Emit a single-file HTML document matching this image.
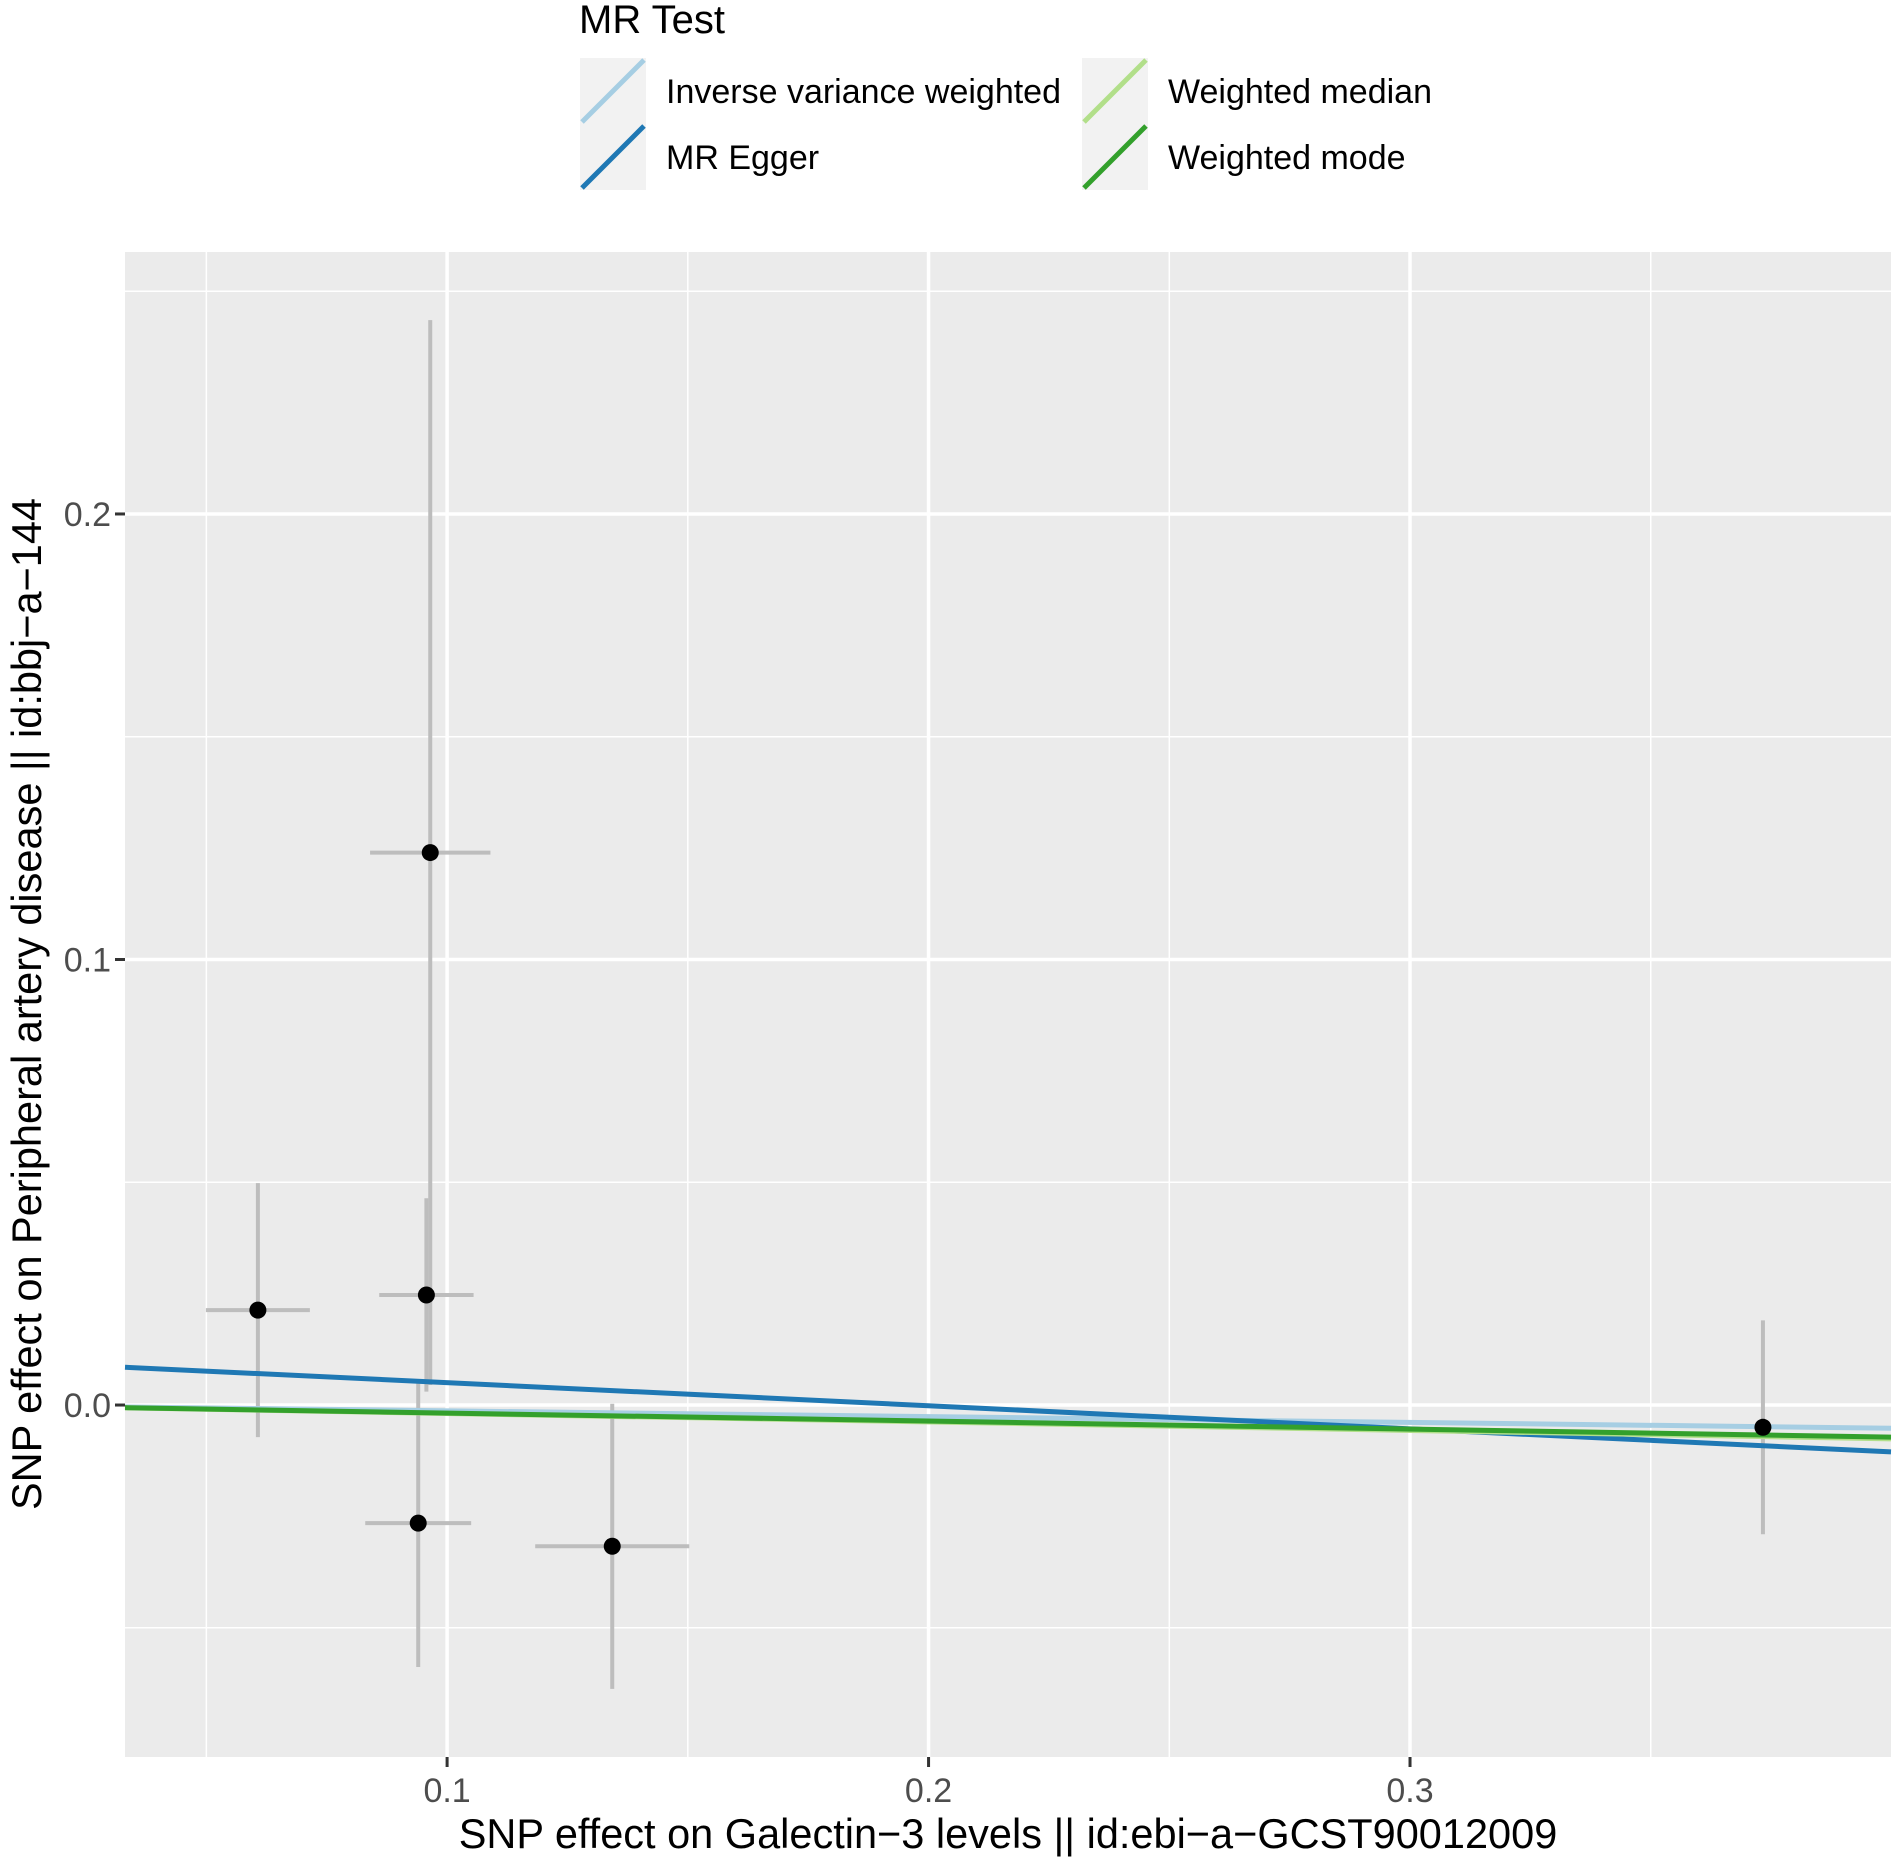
<!DOCTYPE html>
<html><head><meta charset="utf-8"><style>
html,body{margin:0;padding:0;background:#fff;}
svg{display:block;font-family:"Liberation Sans",Arial,sans-serif;}
</style></head><body>
<svg id="chart" width="1900" height="1867" viewBox="0 0 1900 1867">
  <g id="legend">
    <text x="579" y="33" font-size="40" fill="#000">MR Test</text>
  </g>
  <rect x="125" y="252" width="1766" height="1505" fill="#ebebeb"/>
  <g id="grid"></g>
  <g id="errs"></g>
  <g id="lines"></g>
  <g id="pts"></g>
  <g id="axes"></g>
  <text x="1008" y="1848" font-size="41.5" text-anchor="middle" fill="#000">SNP effect on Galectin−3 levels || id:ebi−a−GCST90012009</text>
  <text transform="translate(41,1004) rotate(-90)" font-size="41.5" text-anchor="middle" fill="#000">SNP effect on Peripheral artery disease || id:bbj−a−144</text>
</svg>
<script>
const xTicks=[0.1,0.2,0.3];
const xTickLabels=["0.1","0.2","0.3"];
const xMinor=[0.05,0.15,0.25,0.35];
const yTicks=[0.0,0.1,0.2];
const yTickLabels=["0.0","0.1","0.2"];
const yMinor=[-0.05,0.05,0.15,0.25];
const snpX=[0.0607,0.0965,0.0957,0.0940,0.1343,0.3733];
const snpY=[0.0213,0.1240,0.0247,-0.0265,-0.0317,-0.0050];
const snpXerr=[0.0108,0.0125,0.0098,0.0110,0.0160,0.0010];
const snpYerr=[0.0285,0.1195,0.0217,0.0323,0.0320,0.0240];
const methods=["Inverse variance weighted","MR Egger","Weighted median","Weighted mode"];
const methodSlopes=[-0.013,-0.0518,-0.019,-0.018];
const methodIntercepts=[0,0.0102,0,0];
const methodColors=["#a6cee3","#1f78b4","#b2df8a","#33a02c"];

const X0=125,X1=1891,Y0=252,Y1=1757;
const xmin=0.0331,xmax=0.3999,ymin=-0.079,ymax=0.2588;
const sx=v=>X0+(v-xmin)/(xmax-xmin)*(X1-X0);
const sy=v=>Y1-(v-ymin)/(ymax-ymin)*(Y1-Y0);
const NS="http://www.w3.org/2000/svg";
function mk(tag,attrs,parent){const e=document.createElementNS(NS,tag);for(const k in attrs)e.setAttribute(k,attrs[k]);parent.appendChild(e);return e;}
const grid=document.getElementById('grid');
xMinor.forEach(v=>{const l=mk('line',{x1:sx(v),x2:sx(v),y1:Y0,y2:Y1,stroke:'#fff','stroke-width':1.5},grid);

});
yMinor.forEach(v=>{const l=mk('line',{x1:X0,x2:X1,y1:sy(v),y2:sy(v),stroke:'#fff','stroke-width':1.5},grid);

});
xTicks.forEach(v=>{const l=mk('line',{x1:sx(v),x2:sx(v),y1:Y0,y2:Y1,stroke:'#fff','stroke-width':3.5},grid);

});
yTicks.forEach(v=>{const l=mk('line',{x1:X0,x2:X1,y1:sy(v),y2:sy(v),stroke:'#fff','stroke-width':3.5},grid);

});
const errs=document.getElementById('errs');
snpX.forEach((x,i)=>{
  const h=mk('line',{x1:sx(x-snpXerr[i]),x2:sx(x+snpXerr[i]),y1:sy(snpY[i]),y2:sy(snpY[i]),stroke:'#bdbdbd','stroke-width':4},errs);
  
  
  const v=mk('line',{x1:sx(x),x2:sx(x),y1:sy(snpY[i]-snpYerr[i]),y2:sy(snpY[i]+snpYerr[i]),stroke:'#bdbdbd','stroke-width':4},errs);
  
  
});
const lines=document.getElementById('lines');
methods.forEach((m,i)=>{
  const l=mk('line',{x1:X0,y1:sy(methodIntercepts[i]+methodSlopes[i]*xmin),x2:X1,y2:sy(methodIntercepts[i]+methodSlopes[i]*xmax),stroke:methodColors[i],'stroke-width':5},lines);
  
  
});
const pts=document.getElementById('pts');
snpX.forEach((x,i)=>{const c=mk('circle',{cx:sx(x),cy:sy(snpY[i]),r:8.5,fill:'#000'},pts);

});
const axes=document.getElementById('axes');
xTicks.forEach((v,i)=>{
  const t=mk('line',{x1:sx(v),x2:sx(v),y1:Y1,y2:Y1+10,stroke:'#333','stroke-width':3},axes);
  
  
  const tx=mk('text',{x:sx(v),y:Y1+45,'font-size':34,'text-anchor':'middle',fill:'#4d4d4d'},axes);
  tx.textContent=xTickLabels[i];
  
  
});
yTicks.forEach((v,i)=>{
  const t=mk('line',{x1:X0-10,x2:X0,y1:sy(v),y2:sy(v),stroke:'#333','stroke-width':3},axes);
  
  
  const tx=mk('text',{x:X0-14,y:sy(v)+12,'font-size':34,'text-anchor':'end',fill:'#4d4d4d'},axes);
  tx.textContent=yTickLabels[i];
  
  
});
const leg=document.getElementById('legend');
const legPos=[[580,58],[580,124],[1082,58],[1082,124]];
methods.forEach((m,i)=>{
  const [lx,ly]=legPos[i];
  const g=mk('g',{},leg);
  
  
  mk('rect',{x:lx,y:ly,width:66,height:66,fill:'#f2f2f2'},g);
  mk('line',{x1:lx+2,y1:ly+64,x2:lx+64,y2:ly+2,stroke:methodColors[i],'stroke-width':5},g);
  const t=mk('text',{x:lx+86,y:ly+45,'font-size':34,fill:'#000'},g);
  t.textContent=m;
});
</script>
</body></html>
